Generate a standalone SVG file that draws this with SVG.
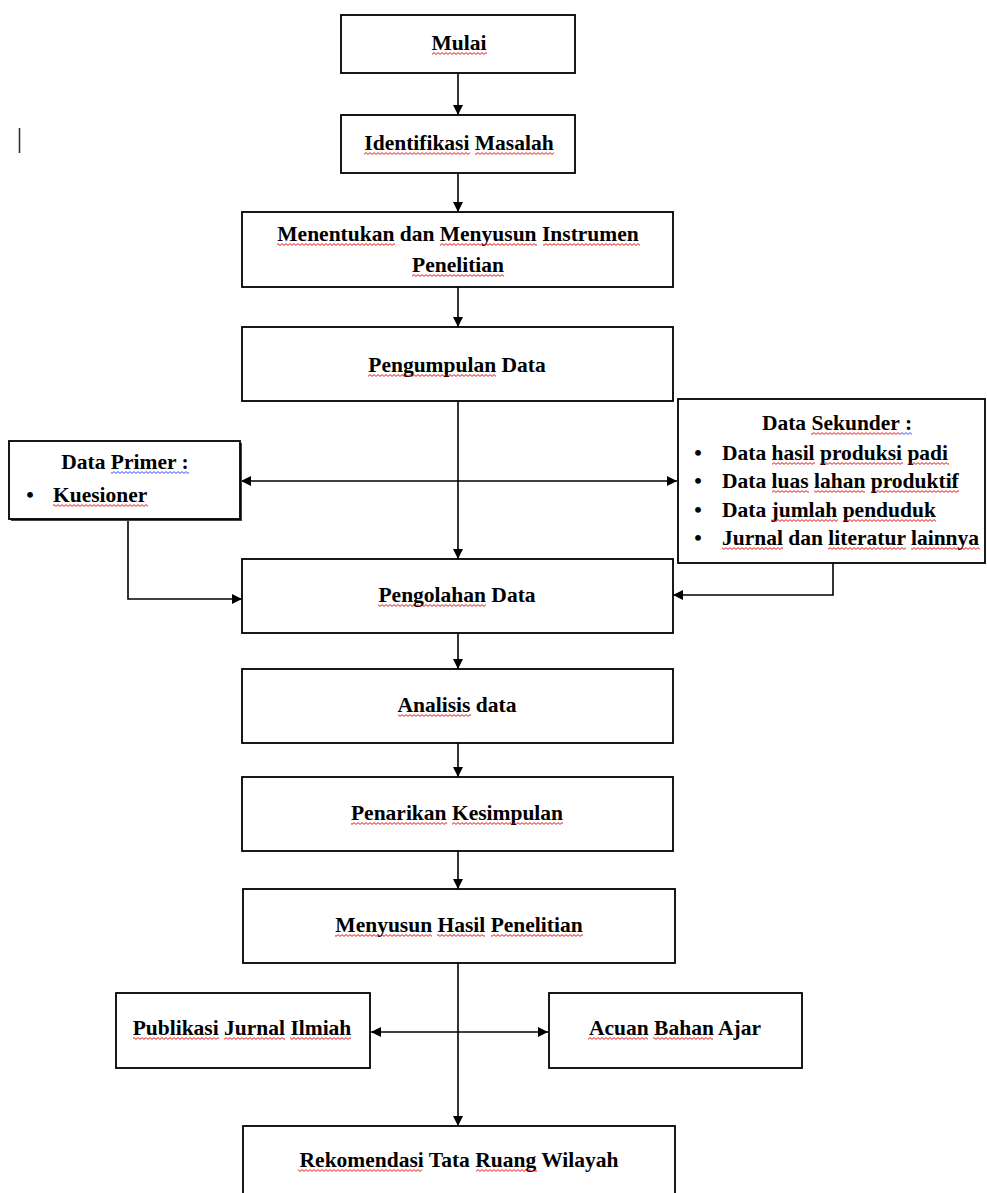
<svg xmlns="http://www.w3.org/2000/svg" width="987" height="1193" viewBox="0 0 987 1193">
<defs>
<marker id="ah" viewBox="0 0 10 10" refX="10" refY="5" markerWidth="10" markerHeight="10" markerUnits="userSpaceOnUse" orient="auto-start-reverse">
<path d="M0,0 L10,5 L0,10 z" fill="#000"/>
</marker>
<pattern id="wr" width="4" height="3" patternUnits="userSpaceOnUse">
<path d="M0,2.4 L2,0.6 L4,2.4" fill="none" stroke="#e00000" stroke-width="0.9"/>
</pattern>
<pattern id="wb" width="4" height="3" patternUnits="userSpaceOnUse">
<path d="M0,2.4 L2,0.6 L4,2.4" fill="none" stroke="#1f3fff" stroke-width="0.9"/>
</pattern>
</defs>
<style>
.box{fill:#fff;stroke:#000;stroke-width:1.8}
.t{font-family:"Liberation Serif","Times New Roman",serif;font-size:21.5px;font-weight:bold;fill:#000}
.c{text-anchor:middle}
.w{fill:url(#wr)}
.wb{fill:url(#wb)}
.ln{fill:none;stroke:#000;stroke-width:1.6}
.ar{marker-end:url(#ah)}
.ar2{marker-start:url(#ah);marker-end:url(#ah)}
</style>
<rect width="987" height="1193" fill="#fff"/>
<line x1="19.5" y1="128" x2="19.5" y2="153" stroke="#333" stroke-width="1.6"/>

<g id="connectors">
<line class="ln ar" x1="458" y1="73" x2="458" y2="115"/>
<line class="ln ar" x1="458" y1="173" x2="458" y2="212"/>
<line class="ln ar" x1="458" y1="287" x2="458" y2="327"/>
<line class="ln ar" x1="458" y1="401" x2="458" y2="559"/>
<line class="ln ar2" x1="241" y1="481" x2="677" y2="481"/>
<polyline class="ln ar" points="128,519 128,599 242,599"/>
<polyline class="ln ar" points="833,563 833,595 673,595"/>
<line class="ln ar" x1="458" y1="633" x2="458" y2="669"/>
<line class="ln ar" x1="458" y1="743" x2="458" y2="777"/>
<line class="ln ar" x1="458" y1="851" x2="458" y2="889"/>
<line class="ln ar" x1="458" y1="963" x2="458" y2="1126"/>
<line class="ln ar2" x1="371" y1="1032" x2="548" y2="1032"/>
</g>

<g id="mulai">
<rect class="box" x="341" y="15" width="234" height="58"/>
<text class="t c" x="459" y="50">Mulai</text>
<rect class="w" transform="translate(0,52)" x="432" y="0" width="55" height="3"/>
</g>
<g id="identifikasi">
<rect class="box" x="341" y="115" width="234" height="58"/>
<text class="t c" x="459" y="150">Identifikasi Masalah</text>
<g transform="translate(0,152)">
<rect class="w" x="364" y="0" width="106" height="3"/>
<rect class="w" x="475" y="0" width="79" height="3"/>
</g>
</g>
<g id="menentukan">
<rect class="box" x="242" y="212" width="431" height="75"/>
<text class="t c" x="458" y="241">Menentukan dan Menyusun Instrumen</text>
<text class="t c" x="458" y="272">Penelitian</text>
<g transform="translate(0,243)">
<rect class="w" x="277" y="0" width="118" height="3"/>
<rect class="w" x="440" y="0" width="97" height="3"/>
<rect class="w" x="543" y="0" width="97" height="3"/>
</g>
<rect class="w" transform="translate(0,274)" x="412" y="0" width="92" height="3"/>
</g>
<g id="pengumpulan">
<rect class="box" x="242" y="327" width="431" height="74"/>
<text class="t c" x="457" y="372">Pengumpulan Data</text>
<rect class="w" transform="translate(0,374)" x="368" y="0" width="128" height="3"/>
</g>
<g id="data-primer">
<rect x="11" y="443" width="231" height="78" fill="#444"/>
<rect class="box" x="9" y="441" width="231" height="78"/>
<text class="t c" x="125" y="469">Data Primer :</text>
<rect class="wb" transform="translate(0,471)" x="111" y="0" width="78" height="3"/>
<text class="t c" x="30" y="502">•</text>
<text class="t" x="53" y="502">Kuesioner</text>
<rect class="w" transform="translate(0,504)" x="53" y="0" width="95" height="3"/>
</g>
<g id="data-sekunder">
<rect class="box" x="678" y="399" width="307" height="164"/>
<text class="t c" x="837" y="430">Data Sekunder :</text>
<g transform="translate(0,432)">
<rect class="w" x="811" y="0" width="89" height="3"/>
<rect class="wb" x="900" y="0" width="12" height="3"/>
</g>
<text class="t c" x="698" y="460">•</text>
<text class="t" x="722" y="460">Data hasil produksi padi</text>
<g transform="translate(0,462)">
<rect class="w" x="772" y="0" width="43" height="3"/>
<rect class="w" x="820" y="0" width="83" height="3"/>
<rect class="w" x="908" y="0" width="41" height="3"/>
</g>
<text class="t c" x="698" y="488">•</text>
<text class="t" x="722" y="488">Data luas lahan produktif</text>
<g transform="translate(0,490)">
<rect class="w" x="772" y="0" width="37" height="3"/>
<rect class="w" x="814" y="0" width="51" height="3"/>
<rect class="w" x="871" y="0" width="88" height="3"/>
</g>
<text class="t c" x="698" y="517">•</text>
<text class="t" x="722" y="517">Data jumlah penduduk</text>
<g transform="translate(0,519)">
<rect class="w" x="772" y="0" width="66" height="3"/>
<rect class="w" x="843" y="0" width="93" height="3"/>
</g>
<text class="t c" x="698" y="545">•</text>
<text class="t" x="722" y="545">Jurnal dan literatur lainnya</text>
<g transform="translate(0,547)">
<rect class="w" x="722" y="0" width="61" height="3"/>
<rect class="w" x="828" y="0" width="78" height="3"/>
<rect class="w" x="911" y="0" width="69" height="3"/>
</g>
</g>
<g id="pengolahan">
<rect class="box" x="242" y="559" width="431" height="74"/>
<text class="t c" x="457" y="602">Pengolahan Data</text>
<rect class="w" transform="translate(0,604)" x="378" y="0" width="108" height="3"/>
</g>
<g id="analisis">
<rect class="box" x="242" y="669" width="431" height="74"/>
<text class="t c" x="457" y="712">Analisis data</text>
<rect class="w" transform="translate(0,714)" x="398" y="0" width="73" height="3"/>
</g>
<g id="penarikan">
<rect class="box" x="242" y="777" width="431" height="74"/>
<text class="t c" x="457" y="820">Penarikan Kesimpulan</text>
<g transform="translate(0,822)">
<rect class="w" x="351" y="0" width="96" height="3"/>
<rect class="w" x="452" y="0" width="111" height="3"/>
</g>
</g>
<g id="menyusun">
<rect class="box" x="243" y="889" width="432" height="74"/>
<text class="t c" x="459" y="932">Menyusun Hasil Penelitian</text>
<g transform="translate(0,934)">
<rect class="w" x="335" y="0" width="97" height="3"/>
<rect class="w" x="437" y="0" width="48" height="3"/>
<rect class="w" x="491" y="0" width="92" height="3"/>
</g>
</g>
<g id="publikasi">
<rect class="box" x="116" y="993" width="254" height="75"/>
<text class="t c" x="242" y="1035">Publikasi Jurnal Ilmiah</text>
<g transform="translate(0,1037)">
<rect class="w" x="133" y="0" width="86" height="3"/>
<rect class="w" x="224" y="0" width="61" height="3"/>
<rect class="w" x="290" y="0" width="61" height="3"/>
</g>
</g>
<g id="acuan">
<rect class="box" x="549" y="993" width="253" height="75"/>
<text class="t c" x="675" y="1035">Acuan Bahan Ajar</text>
<g transform="translate(0,1037)">
<rect class="w" x="588" y="0" width="60" height="3"/>
<rect class="w" x="653" y="0" width="60" height="3"/>
</g>
</g>
<g id="rekomendasi">
<rect class="box" x="243" y="1126" width="432" height="80"/>
<text class="t c" x="459" y="1167">Rekomendasi Tata Ruang Wilayah</text>
<g transform="translate(0,1169)">
<rect class="w" x="298" y="0" width="124" height="3"/>
<rect class="w" x="476" y="0" width="61" height="3"/>
</g>
</g>
</svg>
